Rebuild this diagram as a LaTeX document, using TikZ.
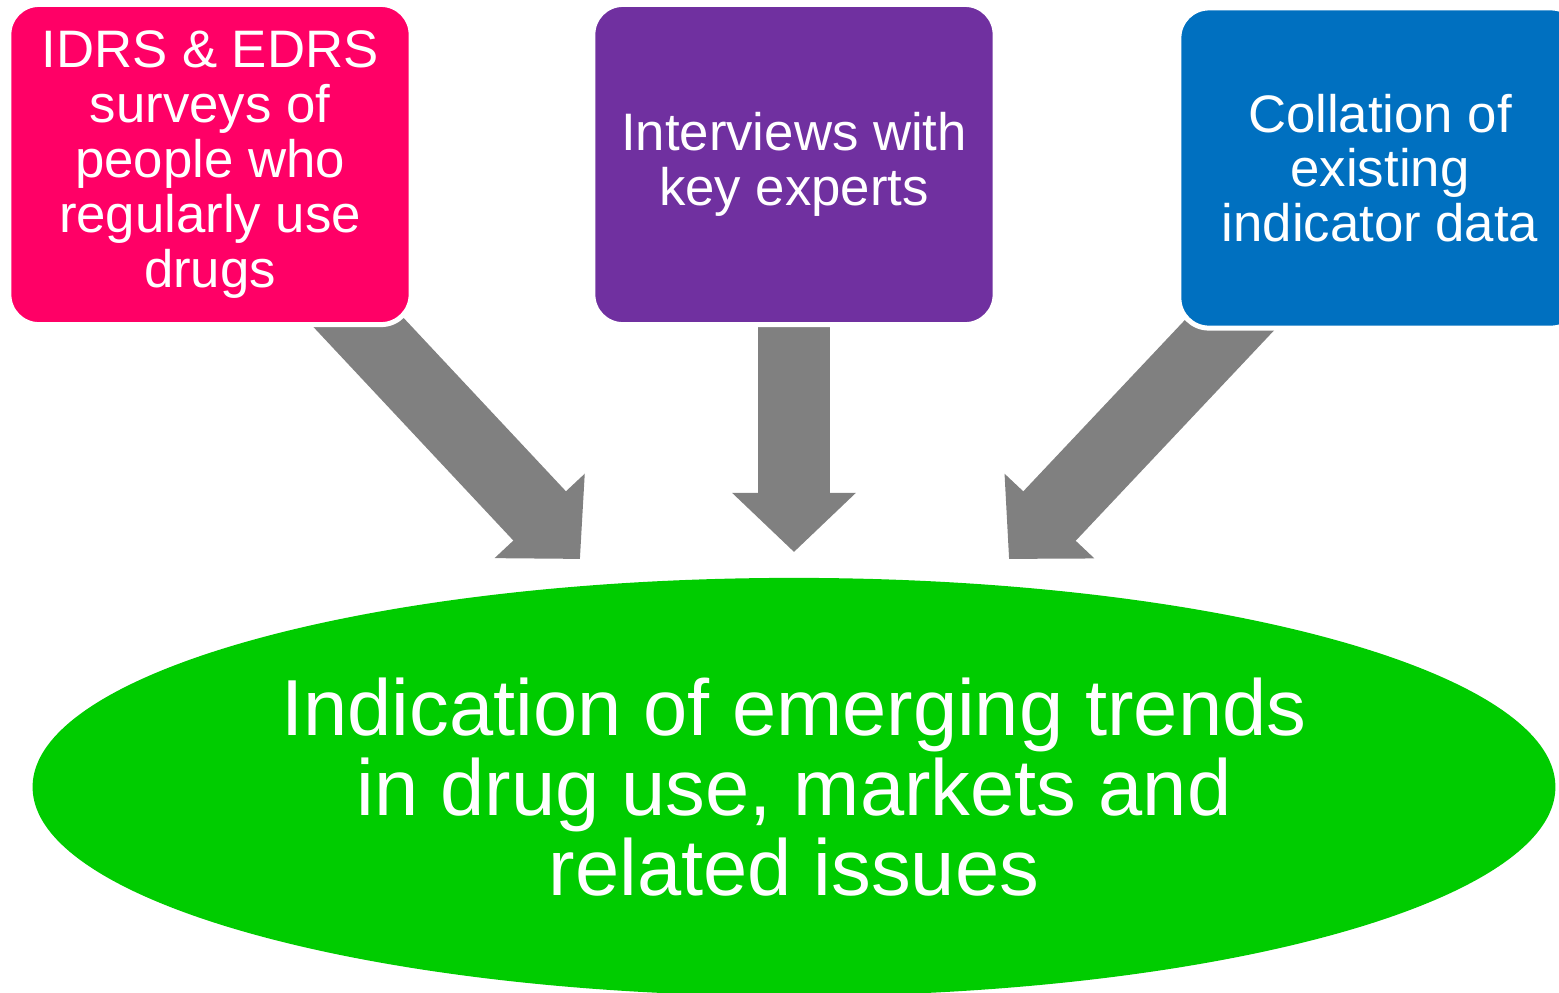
\documentclass[tikz,border=0pt]{standalone}
\usepackage{fontspec}
\setmainfont{Liberation Sans}
\usetikzlibrary{shapes.geometric,arrows.meta,backgrounds}
\definecolor{srcpink}{HTML}{FF0066}
\definecolor{srcpurple}{HTML}{7030A0}
\definecolor{srcblue}{HTML}{0070C0}
\definecolor{trendgreen}{HTML}{00CC00}
\definecolor{arrowgray}{HTML}{808080}
\begin{document}
\begin{tikzpicture}[x=0.01cm, y=-0.01cm,
	source/.style={draw=white, line width=0.05cm, rounded corners=0.3cm, text=white,
		align=center, inner sep=0pt, minimum width=4.02cm, minimum height=3.2cm,
		font=\fontsize{15}{15.6}\selectfont},
	flow/.style={arrowgray, line width=0.72cm, -{Triangle[width=1.2cm, length=0.59cm]}}]
	\useasboundingbox (0,0) rectangle (1559,993);
	%sources
	\node[source, fill=srcpink] (idrs) at (210,164.5) {IDRS \& EDRS\\surveys of\\people who\\regularly use\\drugs};
	\node[source, fill=srcpurple] (interviews) at (794,164.5) {Interviews with\\key experts};
	\node[source, fill=srcblue] (collation) at (1380,168) {Collation of\\existing\\indicator data};
	%result
	\node[ellipse, fill=trendgreen, text=white, align=center, inner sep=0pt, outer sep=0pt,
		minimum width=15.22cm, minimum height=4.18cm,
		font=\fontsize{22.6}{22.8}\selectfont] (trends) at (794,787)
		{Indication of emerging trends\\in drug use, markets and\\related issues};
	%arrows
	\coordinate (idrs tail) at (330,292);
	\coordinate (interviews tail) at (794,300);
	\coordinate (collation tail) at (1257,296);
	\coordinate (trends left) at (580,559);
	\coordinate (trends mid) at (794,552);
	\coordinate (trends right) at (1009,559);
	\begin{scope}[on background layer]
		\draw[flow] (idrs tail) -- (trends left);
		\draw[flow] (interviews tail) -- (trends mid);
		\draw[flow] (collation tail) -- (trends right);
	\end{scope}
\end{tikzpicture}
\end{document}
